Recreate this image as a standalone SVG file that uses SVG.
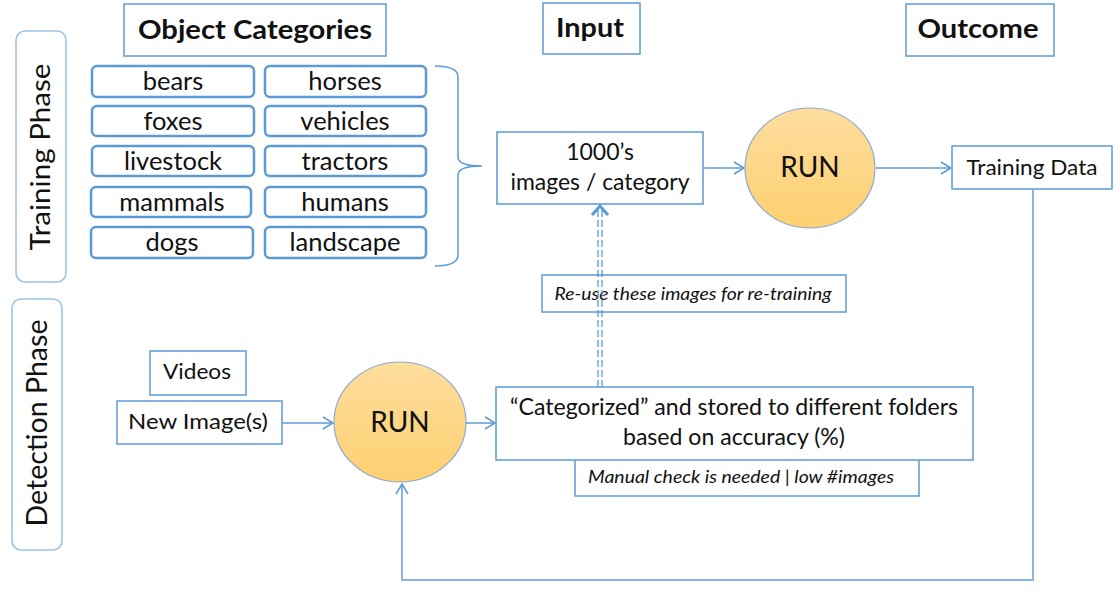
<svg xmlns="http://www.w3.org/2000/svg" width="1120" height="592" viewBox="0 0 1120 592">
<style>
text{font-family:Lato,"Liberation Sans",sans-serif;fill:#111;text-anchor:middle}
.title{font-weight:bold;font-size:27px}
.cat{font-size:25.5px}
.box{fill:#fff;stroke:#5b9bd5;stroke-width:1.5}
.cbox{fill:#fff;stroke:#5b9bd5;stroke-width:2.5}
.phase{fill:#fff;stroke:#9dc3e6;stroke-width:1.6}
.note{font-style:italic;font-size:18px}
.conn{fill:none;stroke:#5b9bd5;stroke-width:1.5}
.run{fill:url(#og);stroke:#8caad0;stroke-width:1.2}
</style>
<defs>
<linearGradient id="og" x1="0" y1="0" x2="0" y2="1">
<stop offset="0" stop-color="#fedd9e"/>
<stop offset="1" stop-color="#fdd070"/>
</linearGradient>
<marker id="arr" markerUnits="userSpaceOnUse" markerWidth="12" markerHeight="14" refX="11" refY="7" orient="auto">
<path d="M1,1 L11,7 L1,13" fill="none" stroke="#5b9bd5" stroke-width="1.5"/>
</marker>
</defs>
<rect width="1120" height="592" fill="#fff"/>

<g id="training-phase">
<rect class="phase" x="16" y="31" width="50" height="251" rx="9"/>
<text transform="translate(50,157) rotate(-90)" font-size="26" textLength="187" lengthAdjust="spacingAndGlyphs">Training Phase</text>
</g>
<g id="detection-phase">
<rect class="phase" x="12" y="299" width="50" height="251" rx="9"/>
<text transform="translate(47,423) rotate(-90)" font-size="29" textLength="207" lengthAdjust="spacingAndGlyphs">Detection Phase</text>
</g>

<g id="object-categories">
<rect class="box" x="124" y="4" width="262" height="52"/>
<text class="title" x="255" y="39" textLength="234" lengthAdjust="spacingAndGlyphs">Object Categories</text>
</g>
<g id="input-title">
<rect class="box" x="543" y="3" width="97" height="51"/>
<text class="title" x="590" y="37" textLength="68" lengthAdjust="spacingAndGlyphs">Input</text>
</g>
<g id="outcome-title">
<rect class="box" x="906" y="4" width="148" height="52"/>
<text class="title" x="978" y="38" textLength="121" lengthAdjust="spacingAndGlyphs">Outcome</text>
</g>

<g id="cat-bears"><rect class="cbox" x="92" y="66" width="162" height="31" rx="5"/><text class="cat" x="173" y="90">bears</text></g>
<g id="cat-foxes"><rect class="cbox" x="92" y="106" width="162" height="30" rx="5"/><text class="cat" x="173" y="130">foxes</text></g>
<g id="cat-livestock"><rect class="cbox" x="92" y="146" width="162" height="30" rx="5"/><text class="cat" x="173" y="170">livestock</text></g>
<g id="cat-mammals"><rect class="cbox" x="91" y="187" width="160" height="30" rx="5"/><text class="cat" x="172" y="211">mammals</text></g>
<g id="cat-dogs"><rect class="cbox" x="91" y="227" width="162" height="31" rx="5"/><text class="cat" x="172" y="251">dogs</text></g>
<g id="cat-horses"><rect class="cbox" x="265" y="66" width="161" height="31" rx="5"/><text class="cat" x="345" y="90">horses</text></g>
<g id="cat-vehicles"><rect class="cbox" x="265" y="106" width="161" height="30" rx="5"/><text class="cat" x="345" y="130">vehicles</text></g>
<g id="cat-tractors"><rect class="cbox" x="265" y="146" width="161" height="30" rx="5"/><text class="cat" x="345" y="170">tractors</text></g>
<g id="cat-humans"><rect class="cbox" x="265" y="187" width="161" height="30" rx="5"/><text class="cat" x="345" y="211">humans</text></g>
<g id="cat-landscape"><rect class="cbox" x="265" y="227" width="161" height="31" rx="5"/><text class="cat" x="345" y="251">landscape</text></g>

<g id="brace">
<path d="M435,66 Q458,66 458,77 L458,157 Q458,166 482,166 Q458,166 458,175 L458,255 Q458,266 435,266" fill="none" stroke="#5b9bd5" stroke-width="1.5"/>
</g>

<g id="images-per-category">
<rect class="box" x="497" y="132" width="206" height="72"/>
<text x="600" y="160" font-size="23">1000’s</text>
<text x="600" y="190" font-size="23" textLength="179" lengthAdjust="spacingAndGlyphs">images / category</text>
</g>
<g id="run-training">
<ellipse class="run" cx="810" cy="168" rx="65" ry="60"/>
<text x="810" y="177" font-size="28">RUN</text>
</g>
<g id="training-data">
<rect class="box" x="952" y="146" width="160" height="43"/>
<text x="1032" y="175" font-size="22" textLength="131" lengthAdjust="spacingAndGlyphs">Training Data</text>
</g>

<g id="videos">
<rect class="box" x="150" y="351" width="96" height="44"/>
<text x="197" y="379" font-size="22" textLength="68" lengthAdjust="spacingAndGlyphs">Videos</text>
</g>
<g id="new-images">
<rect class="box" x="117" y="401" width="165" height="43"/>
<text x="198" y="429" font-size="22" textLength="140" lengthAdjust="spacingAndGlyphs">New Image(s)</text>
</g>
<g id="run-detection">
<ellipse class="run" cx="400" cy="422" rx="66" ry="60"/>
<text x="400" y="432" font-size="28">RUN</text>
</g>
<g id="manual-check">
<rect class="box" x="575" y="450" width="344" height="46"/>
<text class="note" x="741" y="483" textLength="306" lengthAdjust="spacingAndGlyphs">Manual check is needed | low #images</text>
</g>
<g id="categorized">
<rect class="box" x="496" y="387" width="477" height="73"/>
<text x="734" y="415" font-size="24" textLength="448" lengthAdjust="spacingAndGlyphs">“Categorized” and stored to different folders</text>
<text x="734" y="445" font-size="24" textLength="222" lengthAdjust="spacingAndGlyphs">based on accuracy (%)</text>
</g>
<g id="reuse">
<rect class="box" x="542" y="275" width="304" height="37"/>
<text class="note" x="693" y="300" textLength="277" lengthAdjust="spacingAndGlyphs">Re-use these images for re-training</text>
</g>

<g id="connectors">
<line class="conn" x1="703" y1="168" x2="744" y2="168" marker-end="url(#arr)"/>
<line class="conn" x1="876" y1="168" x2="951" y2="168" marker-end="url(#arr)"/>
<line class="conn" x1="282" y1="423" x2="333" y2="423" marker-end="url(#arr)"/>
<line class="conn" x1="466" y1="423" x2="495" y2="423" marker-end="url(#arr)"/>
<polyline points="1033,189 1033,580 402,580 402,484" fill="none" stroke="#8db4e2" stroke-width="2" marker-end="url(#arr)"/>
<line x1="598" y1="387" x2="598" y2="208" stroke="#5b9bd5" stroke-width="1.3" stroke-dasharray="7,3"/>
<line x1="602" y1="387" x2="602" y2="208" stroke="#5b9bd5" stroke-width="1.3" stroke-dasharray="7,3"/>
<path d="M592,215 L600,206 L608,215" fill="none" stroke="#5b9bd5" stroke-width="3"/>
</g>
</svg>
